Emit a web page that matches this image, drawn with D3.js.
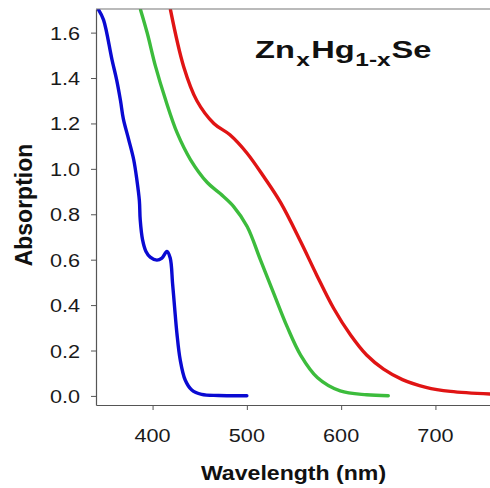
<!DOCTYPE html>
<html><head><meta charset="utf-8">
<script src="https://cdn.jsdelivr.net/npm/d3@7"></script>
<style>body{margin:0;background:#fff}svg{display:block}text{font-family:"Liberation Sans",Arial,sans-serif}</style>
</head><body><svg id="c" width="490" height="488"></svg>
<script>
const xTicks = [400, 500, 600, 700];
const yTicks = [0, 0.2, 0.4, 0.6, 0.8, 1.0, 1.2, 1.4, 1.6];
const blueWl  = [342.8, 348, 357, 362, 366, 369, 374.6, 380, 383.4, 386, 386.9, 389.4, 393, 397.5, 404.6, 409.9, 415.2, 418.7, 421.2, 423.3, 425.8, 429.3, 434.6, 441.6, 452, 470, 500];
const blueAbs = [1.70, 1.656, 1.48, 1.39, 1.30, 1.22, 1.13, 1.04, 0.95, 0.86, 0.775, 0.687, 0.636, 0.611, 0.598, 0.607, 0.636, 0.607, 0.496, 0.393, 0.276, 0.159, 0.070, 0.026, 0.007, 0.002, 0.001];
const greenWl  = [387.3, 394.4, 403.2, 413.8, 426.2, 440.3, 458, 472, 486, 500.3, 514.4, 528.5, 542.7, 557, 575, 599, 627, 650];
const greenAbs = [1.70, 1.597, 1.45, 1.304, 1.157, 1.04, 0.94, 0.89, 0.834, 0.746, 0.599, 0.452, 0.305, 0.18, 0.08, 0.022, 0.005, 0.001];
const redWl  = [419, 433, 447, 465, 482, 500, 518, 536, 557, 574, 592, 610, 627, 645, 665, 690, 716, 760];
const redAbs = [1.70, 1.45, 1.30, 1.20, 1.15, 1.07, 0.965, 0.85, 0.68, 0.533, 0.386, 0.268, 0.180, 0.118, 0.072, 0.038, 0.020, 0.008];
const seriesColors = ["#0a0ad2", "#3cbc3c", "#e01414"];

const svg = d3.select("#c");
const L = 96, R = 492, T = 9, B = 405;
const x = d3.scaleLinear().domain([340, 760]).range([L, R]);
const y = d3.scaleLinear().domain([-0.04, 1.704]).range([B, T]);

svg.append("clipPath").attr("id","pc").append("rect").attr("x",L).attr("y",T).attr("width",490-L).attr("height",B-T);

const series = [[blueWl, blueAbs], [greenWl, greenAbs], [redWl, redAbs]];
const line = d3.line().x(d=>x(d[0])).y(d=>y(d[1])).curve(d3.curveCatmullRom.alpha(0.5));
series.forEach((s,i)=>{
  const pts = s[0].map((w,j)=>[w, s[1][j]]);
  svg.append("path").attr("d", line(pts)).attr("fill","none")
    .attr("stroke", seriesColors[i]).attr("stroke-width",3.4)
    .attr("stroke-linecap","round").attr("clip-path","url(#pc)");
});

// frame top line
svg.append("line").attr("x1",L).attr("x2",490).attr("y1",T).attr("y2",T).attr("stroke","#777").attr("stroke-width",1.2);

const xAxis = svg.append("g").attr("transform",`translate(0,${B})`)
  .call(d3.axisBottom(x).tickValues(xTicks).tickSize(5).tickSizeOuter(0).tickFormat(d3.format("d")));
const yAxis = svg.append("g").attr("transform",`translate(${L},0)`)
  .call(d3.axisLeft(y).tickValues(yTicks).tickSize(5).tickSizeOuter(0).tickFormat(d3.format(".1f")));
[xAxis,yAxis].forEach(a=>{
  a.select(".domain").attr("stroke","#555").attr("stroke-width",1.2);
  a.selectAll(".tick line").attr("stroke","#555");
  a.selectAll("text").remove();
});
// tick labels with horizontal stretch
const sx = 1.14;
xTicks.forEach(v=>{
  svg.append("text").attr("transform",`translate(${x(v)},442) scale(${sx},1)`)
    .attr("text-anchor","middle").attr("font-size",19).attr("fill","#1a1a1a").text(d3.format("d")(v));
});
yTicks.forEach(v=>{
  svg.append("text").attr("transform",`translate(80,${y(v)+7}) scale(${sx},1)`)
    .attr("text-anchor","end").attr("font-size",19).attr("fill","#1a1a1a").text(d3.format(".1f")(v));
});

svg.append("text").attr("transform","translate(293.5,480) scale(1.1,1)")
  .attr("text-anchor","middle").attr("font-size",21).attr("font-weight","bold").attr("fill","#111")
  .text("Wavelength (nm)");
svg.append("text").attr("transform","translate(32,205) rotate(-90)")
  .attr("text-anchor","middle").attr("font-size",23).attr("font-weight","bold").attr("fill","#111")
  .text("Absorption");

const t = svg.append("text").attr("transform","translate(255,58) scale(1.36,1)")
  .attr("font-size",24).attr("font-weight","bold").attr("fill","#111");
t.append("tspan").text("Zn");
t.append("tspan").attr("font-size",18).attr("dy",8).attr("dx",1).text("x");
t.append("tspan").attr("dy",-8).attr("dx",1).text("Hg");
t.append("tspan").attr("font-size",18).attr("dy",8).attr("dx",0.5).text("1-x");
t.append("tspan").attr("dy",-8).attr("dx",0.5).text("Se");
</script></body></html>
